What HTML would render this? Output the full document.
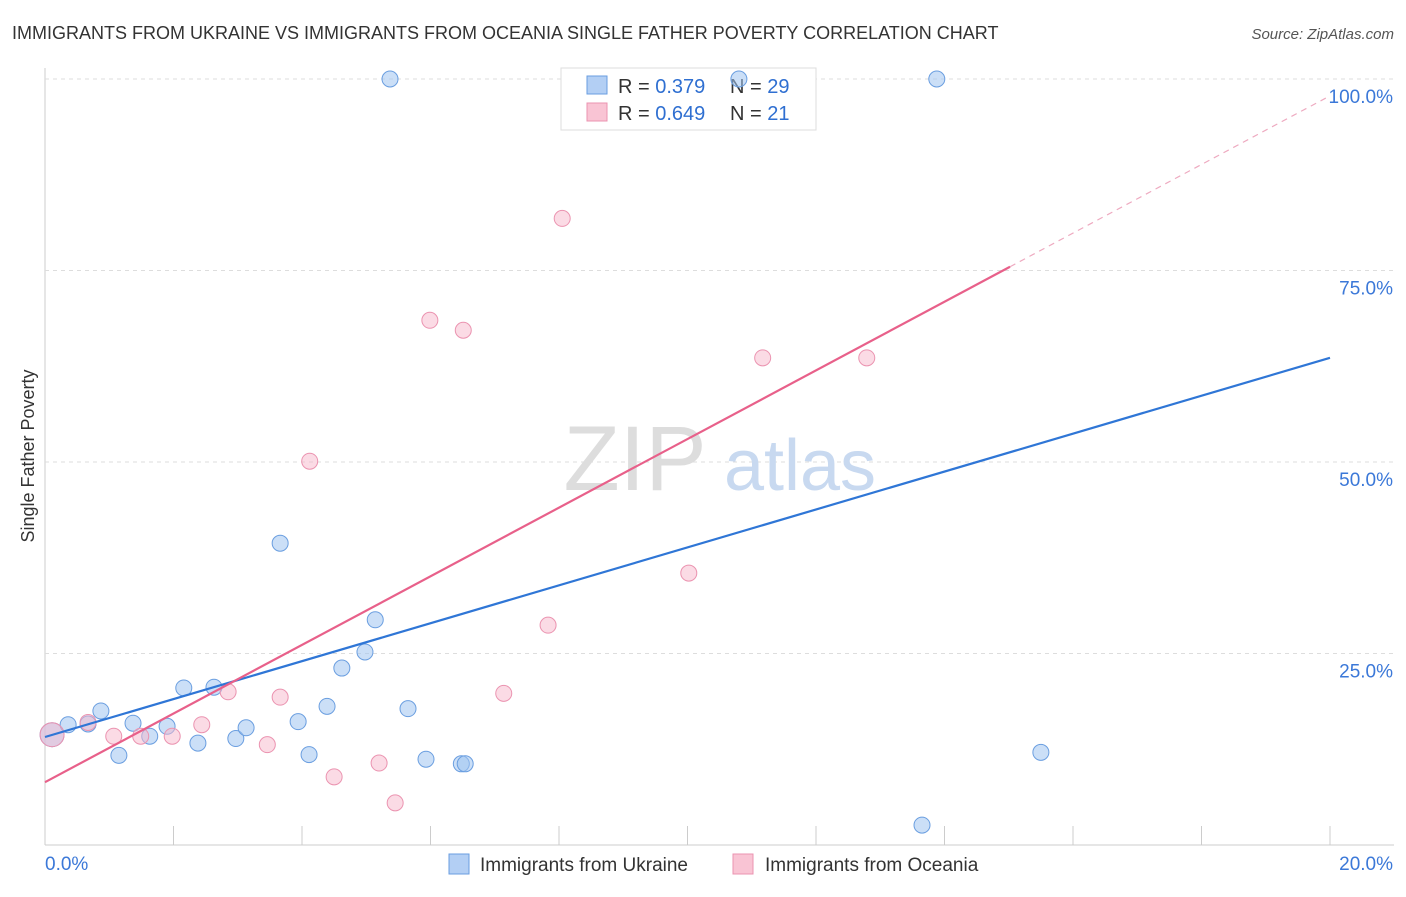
<!DOCTYPE html>
<html><head><meta charset="utf-8"><style>
body{margin:0;background:#fff;font-family:"Liberation Sans",sans-serif}
svg text{font-family:"Liberation Sans",sans-serif}
</style></head><body>
<svg id="chart" width="1406" height="892">
<text x="12" y="39" font-size="18" fill="#333">IMMIGRANTS FROM UKRAINE VS IMMIGRANTS FROM OCEANIA SINGLE FATHER POVERTY CORRELATION CHART</text>
<text x="1394" y="39" font-size="15" fill="#555" font-style="italic" text-anchor="end">Source: ZipAtlas.com</text>
<text x="34" y="456" font-size="18" fill="#333" transform="rotate(-90 34 456)" text-anchor="middle">Single Father Poverty</text>
<g id="grid"></g>
<g id="wm">
<text x="635" y="490" font-size="92" fill="#ddd" font-family="Liberation Serif" text-anchor="middle">ZIP</text>
<text x="800" y="490" font-size="72" fill="#c8d9f0" text-anchor="middle">atlas</text></g>
<g>
<rect x="561" y="68" width="255" height="62" fill="#fff" stroke="#ddd"/>
<rect x="587" y="76" width="20" height="18" fill="#b3cff4" stroke="#6a9ee0"/>
<rect x="587" y="103" width="20" height="18" fill="#f9c4d4" stroke="#eb93b0"/>
<text x="618" y="93" font-size="20" fill="#333">R = <tspan fill="#2f6fd1">0.379</tspan></text>
<text x="730" y="93" font-size="20" fill="#333">N = <tspan fill="#2f6fd1">29</tspan></text>
<text x="618" y="120" font-size="20" fill="#333">R = <tspan fill="#2f6fd1">0.649</tspan></text>
<text x="730" y="120" font-size="20" fill="#333">N = <tspan fill="#2f6fd1"> 21</tspan></text>
</g>
<g id="marks"></g>
<g id="lines"></g>
<g>
<rect x="449" y="854" width="20" height="20" fill="#b3cff4" stroke="#6a9ee0"/>
<text x="480" y="871" font-size="19" fill="#333">Immigrants from Ukraine</text>
<rect x="733" y="854" width="20" height="20" fill="#f9c4d4" stroke="#eb93b0"/>
<text x="765" y="871" font-size="19" fill="#333">Immigrants from Oceania</text>
</g>
</svg>
<script>
const xTicks=[0,2,4,6,8,10,12,14,16,18,20];
const yTicks=[25,50,75,100];
const ukrX=[0.11,0.36,0.67,0.87,1.15,1.37,1.63,1.9,2.16,2.38,2.63,2.97,3.13,3.66,3.94,4.11,4.39,4.62,4.98,5.14,5.37,5.65,5.93,6.48,6.54,10.8,13.65,13.88,15.5];
const ukrY=[14.4,15.7,15.8,17.5,11.7,15.9,14.2,15.5,20.5,13.3,20.6,13.9,15.3,39.4,16.1,11.8,18.1,23.1,25.2,29.4,100,17.8,11.2,10.6,10.6,100,2.6,100,12.1];
const oceX=[0.11,0.67,1.07,1.49,1.98,2.44,2.85,3.46,3.66,4.12,4.5,5.2,5.45,5.99,6.51,7.14,7.83,8.05,10.02,11.17,12.79];
const oceY=[14.4,16.0,14.2,14.2,14.2,15.7,20.0,13.1,19.3,50.1,8.9,10.7,5.5,68.5,67.2,19.8,28.7,81.8,35.5,63.6,63.6];
const ukrLine=[14.1,63.6];
const oceLine=[8.2,97.8];
const oceSolidEnd=15.02;
const NS="http://www.w3.org/2000/svg";
const X=v=>45+v*64.25, Y=v=>845-v*7.66;
function mk(t,a,p){const e=document.createElementNS(NS,t);for(const k in a)e.setAttribute(k,a[k]);p.appendChild(e);return e;}
const grid=document.getElementById('grid'),marks=document.getElementById('marks'),lines=document.getElementById('lines');
mk('line',{x1:45,y1:68,x2:45,y2:845,stroke:'#ccc'},grid);
mk('line',{x1:45,y1:845,x2:1394,y2:845,stroke:'#ccc'},grid);
for(const t of yTicks){
 const g=mk('line',{x1:45,y1:Y(t),x2:1394,y2:Y(t),stroke:'#ddd','stroke-dasharray':'4,4'},grid);
 
 
 const tx=mk('text',{x:1393,y:Y(t)+24,'font-size':19,fill:'#3b78d8','text-anchor':'end'},grid);
 tx.textContent=t.toFixed(1)+'%';
 
 
}
for(const t of xTicks){
 const l=mk('line',{x1:X(t),y1:826,x2:X(t),y2:845,stroke:'#ccc'},grid);
 
 
}
const xl0=mk('text',{x:45,y:870,'font-size':19,fill:'#3b78d8'},grid);xl0.textContent=xTicks[0].toFixed(1)+'%';


const xl1=mk('text',{x:1393,y:870,'font-size':19,fill:'#3b78d8','text-anchor':'end'},grid);xl1.textContent=xTicks[xTicks.length-1].toFixed(1)+'%';


ukrX.forEach((x,i)=>{const c=mk('circle',{cx:X(x),cy:Y(ukrY[i]),r:i==0?12:8,fill:'rgba(160,196,240,0.55)',stroke:'#6a9ee0','stroke-width':1},marks);
 
 });
oceX.forEach((x,i)=>{const c=mk('circle',{cx:X(x),cy:Y(oceY[i]),r:i==0?12:8,fill:'rgba(247,184,204,0.5)',stroke:'#eb93b0','stroke-width':1},marks);
 
 });
const oy=v=>oceLine[0]+(oceLine[1]-oceLine[0])*v/20;
const l1=mk('line',{x1:X(0),y1:Y(ukrLine[0]),x2:X(20),y2:Y(ukrLine[1]),stroke:'#2f76d6','stroke-width':2.2},lines);


const l2=mk('line',{x1:X(0),y1:Y(oy(0)),x2:X(oceSolidEnd),y2:Y(oy(oceSolidEnd)),stroke:'#e8608a','stroke-width':2.2},lines);


const l3=mk('line',{x1:X(oceSolidEnd),y1:Y(oy(oceSolidEnd)),x2:X(20),y2:Y(oy(20)),stroke:'#eeaac0','stroke-width':1.2,'stroke-dasharray':'6,5'},lines);


</script>
</body></html>
